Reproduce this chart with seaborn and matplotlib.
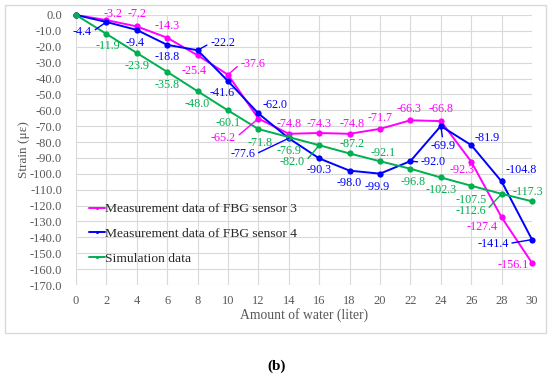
import matplotlib
matplotlib.use("Agg")
import matplotlib.pyplot as plt
import matplotlib.patches as mpatches
import numpy as np
import pandas as pd
import seaborn as sns

# ---------------- data ----------------
water = [0, 2, 4, 6, 8, 10, 12, 14, 16, 18, 20, 22, 24, 26, 28, 30]
sensor3 = [0.0, -3.2, -7.2, -14.3, -25.4, -37.6, -65.2, -74.8, -74.3, -74.8,
           -71.7, -66.3, -66.8, -92.3, -127.4, -156.1]
sensor4 = [0.0, -4.4, -9.4, -18.8, -22.2, -41.6, -62.0, -77.6, -90.3, -98.0,
           -99.9, -92.0, -69.9, -81.9, -104.8, -141.4]
simulation = [0.0, -11.9, -23.9, -35.8, -48.0, -60.1, -71.8, -76.9, -82.0, -87.2,
              -92.1, -96.8, -102.3, -107.5, -112.6, -117.3]
series_names = ["Measurement data of FBG sensor 3",
                "Measurement data of FBG sensor 4",
                "Simulation data"]
x_ticks = [0, 2, 4, 6, 8, 10, 12, 14, 16, 18, 20, 22, 24, 26, 28, 30]
y_ticks = [0, -10, -20, -30, -40, -50, -60, -70, -80, -90, -100, -110, -120,
           -130, -140, -150, -160, -170]

# ---------------- label placement (pixel offsets, dy down) ----------------
off3 = [None, (7, -6), (0, -12), (0, -12), (-3, 16), (25, -11), (-35, 19), (0, -10),
        (0, -9), (3, -10), (0, -11), (-1, -11), (0, -12), (-9, 8), (-19, 10), (-19, 2)]
lead3 = [0, 0, 0, 0, 0, 1, 1, 0, 0, 0, 0, 0, 0, 0, 0, 0]
off4 = [None, (-24, 10), (-2, 13), (0, 12), (25, -7), (-6, 12), (17, -8), (-46, 16),
        (0, 12), (0, 12), (-3, 13), (23, 1), (2, 20), (16, -7), (20, -11), (-39, 4)]
lead4 = [0, 1, 0, 0, 1, 0, 0, 1, 0, 0, 0, 1, 1, 0, 1, 1]
offs = [None, (2, 12), (0, 13), (0, 13), (0, 13), (0, 13), (2, 14), (0, 14),
        (-27, 17), (2, -9), (3, -8), (3, 13), (0, 13), (0, 14), (-31, 17), (-4, -9)]
leads = [0, 0, 0, 0, 0, 0, 0, 0, 1, 0, 0, 0, 0, 0, 1, 0]

colors = ["#FF00FF", "#0000FF", "#00B050"]

df = pd.concat([
    pd.DataFrame({"water": water, "strain": vals, "series": name})
    for vals, name in zip([sensor3, sensor4, simulation], series_names)
], ignore_index=True)

sns.set_theme(style="white")
plt.rcParams["font.family"] = ["Liberation Serif", "DejaVu Serif"]
plt.rcParams["axes.unicode_minus"] = False

W, H = 550, 379
fig = plt.figure(figsize=(W / 100, H / 100), dpi=100)
ax = fig.add_axes([76 / W, 1 - 285 / H, 456 / W, 270 / H])

# outer frame
fig.patches.append(mpatches.Rectangle((5 / W, 1 - 333 / H), 541 / W, 328 / H,
                                      transform=fig.transFigure, fill=False,
                                      edgecolor="#D9D9D9", linewidth=1.0))

sns.lineplot(data=df, x="water", y="strain", hue="series", palette=colors,
             hue_order=series_names, marker="o", markersize=4.5, markeredgewidth=0,
             linewidth=1.4, sort=False, ax=ax, clip_on=False, zorder=3)

ax.set_xlim(0, 30)
ax.set_ylim(-170, 0)
ax.set_xticks(x_ticks)
ax.set_yticks(y_ticks)
ax.set_yticklabels([f"{v:.1f}" for v in y_ticks])
ax.grid(True, color="#D9D9D9", linewidth=0.8)
for s in ax.spines.values():
    s.set_visible(False)
ax.tick_params(axis="both", length=0, labelsize=9, colors="#595959")
ax.tick_params(axis="y", pad=10)
ax.tick_params(axis="x", pad=7)

ax.set_xlabel("Amount of water (liter)", fontsize=9.8, color="#595959")
ax.set_ylabel("Strain (με)", fontsize=9.5, color="#595959")
ax.xaxis.set_label_coords(0.5, -0.085)
ax.yaxis.set_label_coords(-0.1, 0.5)


def add_labels(vals, offsets, leads, color):
    for i in range(1, len(water)):
        dx, dy = offsets[i]
        kw = {}
        if leads[i]:
            if abs(dx) > 15:
                rel = (1, 0.5) if dx < 0 else (0, 0.5)
            else:
                rel = (0.5, 1) if dy > 0 else (0.5, 0)
            kw["arrowprops"] = dict(arrowstyle="-", color=color, lw=1.0,
                                    shrinkA=0, shrinkB=0, relpos=rel)
        ax.annotate(f"{vals[i]:.1f}", xy=(water[i], vals[i]), xytext=(dx, -dy),
                    textcoords="offset pixels", ha="center", va="center",
                    fontsize=8.7, color=color, annotation_clip=False, **kw)


add_labels(sensor3, off3, lead3, colors[0])
add_labels(sensor4, off4, lead4, colors[1])
add_labels(simulation, offs, leads, colors[2])

handles, labels = ax.get_legend_handles_labels()
ax.legend(handles, labels, loc="upper left", bbox_to_anchor=(0.028, 0.304),
          frameon=False, fontsize=9.7, handlelength=1.2, handletextpad=0.0,
          borderpad=0, borderaxespad=0, labelspacing=0.92, markerscale=0.5)

fig.text(277 / W, 1 - 366 / H, "(b)", ha="center", va="center",
         fontsize=11, fontweight="bold", color="black")

fig.savefig("out.png", dpi=100, facecolor="white")
